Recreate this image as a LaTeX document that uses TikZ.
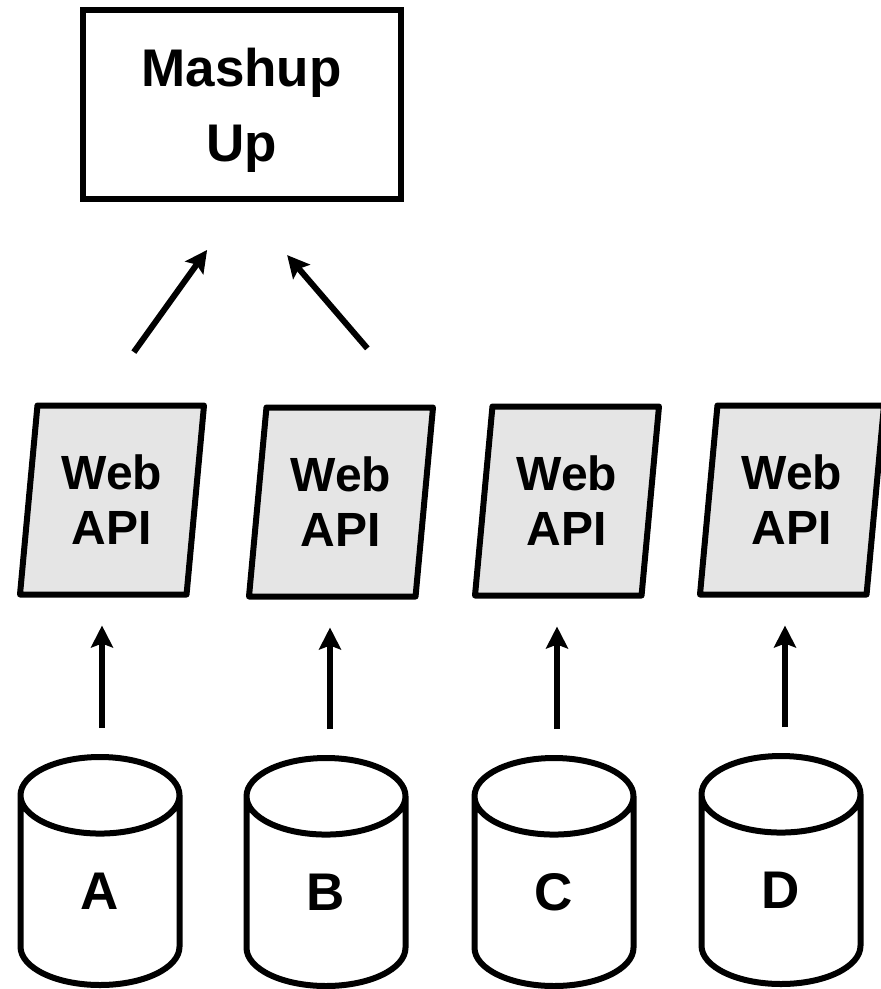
\documentclass[tikz,border=0pt]{standalone}
\usepackage{fontspec}
\setmainfont{Liberation Sans}
\usetikzlibrary{shapes.geometric, arrows.meta, calc}
\newcommand{\bigfont}{\fontsize{53}{75}\selectfont\bfseries}
\newcommand{\apifont}{\fontsize{48}{55}\selectfont\bfseries}
\tikzstyle{mashbox} = [rectangle, draw, line width=6pt, minimum width=318pt, minimum height=189pt, align=center, text depth=-23pt, font=\bigfont]
\tikzstyle{api} = [trapezium, trapezium left angle=79, trapezium right angle=101, trapezium stretches body, minimum width=184pt, minimum height=189pt, draw, line width=6pt, line join=round, fill=black!10, align=center, inner sep=0pt, font=\apifont]
\tikzstyle{db} = [cylinder, shape border rotate=90, aspect=2, draw, line width=6pt, minimum width=159pt, minimum height=228pt, inner sep=0pt, font=\bigfont, anchor=shape center]
\tikzstyle{aro} = [-{Stealth[length=22pt, width=22pt, inset=4pt]}, line width=6pt]

\begin{document}
\begin{tikzpicture}[x=1pt, y=-1pt]
  \useasboundingbox (0,0) rectangle (881,989);

  \node (mash) [mashbox] at (241.5,104.5) {Mashup\\Up};

  \node (apiA) [api] at (112,500) {Web\\API};
  \node (apiB) [api] at (341,502) {Web\\API};
  \node (apiC) [api] at (567,501) {Web\\API};
  \node (apiD) [api] at (792,500) {Web\\API};

  \node (dbA) [db] at (100,871) {A};
  \node (dbB) [db] at (326,872) {B};
  \node (dbC) [db] at (554,872) {C};
  \node (dbD) [db] at (781,870) {D};

  \draw [aro, shorten <=62pt, shorten >=59pt] ($(apiA.top left corner)!0.365!(apiA.top right corner)$) -- (mash.south);
  \draw [aro, shorten <=74pt, shorten >=70pt] ($(apiB.top left corner)!0.88!(apiB.top right corner)$) -- (mash.south);

  \foreach \k/\dx in {A/2, B/4, C/3, D/4}
    \draw [aro, shorten <=26pt, shorten >=28pt] ($(db\k.north)+(\dx,0)$) -- ($(db\k.north |- api\k.south)+(\dx,0)$);

\end{tikzpicture}
\end{document}
